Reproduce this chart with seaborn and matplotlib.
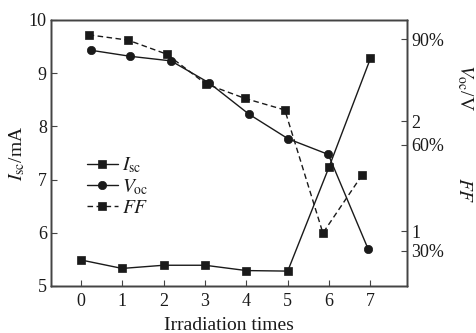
import matplotlib
matplotlib.use('Agg')
import matplotlib.pyplot as plt
import seaborn as sns
import pandas as pd

# ---- data ----
times = [0, 1, 2, 3, 4, 5, 6, 7]
isc_x = [0, 1, 2, 3, 4, 5, 6, 7]
isc_ma = [5.49, 5.33, 5.39, 5.39, 5.29, 5.28, 7.24, 9.28]
voc_x = [0.24, 1.19, 2.18, 3.10, 4.06, 5.01, 5.98, 6.94]
voc_v = [2.645, 2.59, 2.548, 2.348, 2.064, 1.839, 1.697, 0.839]
ff_x = [0.19, 1.14, 2.08, 3.02, 3.96, 4.93, 5.85, 6.80]
ff_pct = [91.2, 89.7, 85.7, 77.3, 73.2, 69.9, 35.0, 51.5]

left_ticks = [5, 6, 7, 8, 9, 10]
voc_ticks = [1, 2]
ff_ticks = [30, 60, 90]
ff_tick_labels = ['30%', '60%', '90%']

sns.set_theme(style='ticks')
plt.rcParams['font.family'] = ['Liberation Serif', 'DejaVu Serif']
plt.rcParams['mathtext.fontset'] = 'stix'

ink = '#1a1a1a'
spine_c = '#444444'
tick_fs = 13
label_fs = 14

fig = plt.figure(figsize=(4.76, 3.33), dpi=100)
W, H = 476, 333
ax = fig.add_axes([51 / W, 1 - 286 / H, 355.5 / W, 266 / H])
ax2 = ax.twinx()
ax3 = ax.twinx()

df_i = pd.DataFrame({'x': isc_x, 'y': isc_ma})
df_v = pd.DataFrame({'x': voc_x, 'y': voc_v})
df_f = pd.DataFrame({'x': ff_x, 'y': ff_pct})

common = dict(color=ink, linewidth=1.0, markersize=6, markeredgecolor=ink,
              markeredgewidth=0.5, legend=False, estimator=None, sort=False)
sns.lineplot(data=df_i, x='x', y='y', ax=ax, marker='s', **common)
sns.lineplot(data=df_v, x='x', y='y', ax=ax2, marker='o', **common)
sns.lineplot(data=df_f, x='x', y='y', ax=ax3, marker='s', linestyle=(0, (4, 2.5)), **common)

ax.set_xlim(-0.72, 7.87)
ax.set_ylim(5, 10)
ax2.set_ylim(0.5, 2.92)
ax3.set_ylim(20, 95.4)

ax.set_xticks(times)
ax.set_yticks(left_ticks)
ax2.set_yticks(voc_ticks)
ax2.set_yticklabels([str(t) for t in voc_ticks])
ax3.set_yticks(ff_ticks)
ax3.set_yticklabels(ff_tick_labels)

for a in (ax, ax2, ax3):
    for s in a.spines.values():
        s.set_color(spine_c)
        s.set_linewidth(1.0)
    a.set_xlabel('')
    a.set_ylabel('')

ax.tick_params(axis='both', direction='in', length=4, width=0.8, color=spine_c,
               labelsize=tick_fs, labelcolor=ink)
ax.tick_params(axis='x', pad=5)
ax.tick_params(axis='y', pad=3)
ax2.tick_params(axis='y', direction='in', length=4, width=0.8, color=spine_c,
                labelsize=tick_fs, labelcolor=ink, pad=3.5)
ax3.tick_params(axis='y', direction='in', length=4, width=0.8, color=spine_c,
                labelsize=tick_fs, labelcolor=ink, pad=3.5)

ax.set_xlabel('Irradiation times', fontsize=label_fs, color=ink)
ax.xaxis.set_label_coords(0.5, -0.115)
ax.set_ylabel(r'$I_{\rm sc}$/mA', fontsize=label_fs, color=ink)
ax.yaxis.set_label_coords(-0.068, 0.5)
ax2.set_ylabel(r'$V_{\rm oc}$/V', fontsize=label_fs, color=ink, rotation=270, va='center')
ax2.yaxis.set_label_coords(1.165, 0.745)
ax3.set_ylabel(r'$FF$', fontsize=label_fs, color=ink, rotation=270, va='center')
ax3.yaxis.set_label_coords(1.16, 0.36)

handles = [ax.lines[0], ax2.lines[0], ax3.lines[0]]
labels = [r'$I_{\rm sc}$', r'$V_{\rm oc}$', r'$FF$']
leg = ax3.legend(handles, labels, loc='upper left', bbox_to_anchor=(0.1, 0.49),
                 frameon=False, fontsize=label_fs, handlelength=1.6, handletextpad=0.2,
                 labelspacing=0.1, borderpad=0, borderaxespad=0)
for t in leg.get_texts():
    t.set_color(ink)

fig.savefig('out.png', dpi=100)
